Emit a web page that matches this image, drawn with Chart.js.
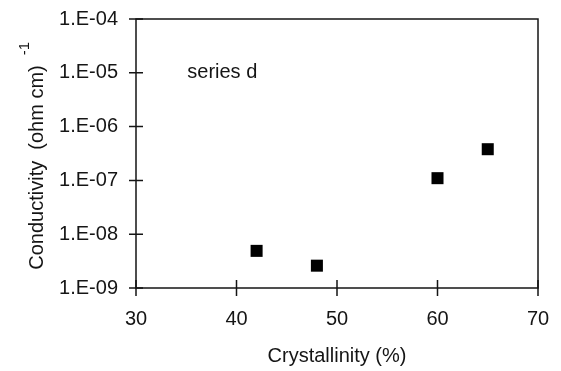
<!DOCTYPE html>
<html>
<head>
<meta charset="utf-8">
<script src="https://cdn.jsdelivr.net/npm/chart.js@4.4.1/dist/chart.umd.min.js"></script>
<style>
  html, body { margin: 0; padding: 0; background: #fff; }
  #wrap { width: 561px; height: 371px; }
</style>
</head>
<body>
<div id="wrap"><canvas id="chart"></canvas></div>
<script>
// data
const crystallinity = [42, 48, 60, 65];
const conductivity = [4.9e-9, 2.6e-9, 1.1e-7, 3.8e-7];
const xTicks = [30, 40, 50, 60, 70];
const yTicks = [1e-9, 1e-8, 1e-7, 1e-6, 1e-5, 1e-4];
const yTickLabels = ["1.E-09", "1.E-08", "1.E-07", "1.E-06", "1.E-05", "1.E-04"];
const seriesLabel = "series d";
const seriesLabelAt = { x: 35.1, y: 1e-5 };
const xTitle = "Crystallinity (%)";
const yTitle = "Conductivity  (ohm cm)";
const yTitleSup = "-1";

const ink = "#151515";
const family = "'Liberation Sans', Arial, sans-serif";

// box round the plot, cross ticks, note and the y title with its exponent
const frame = {
  id: "frame",
  afterDraw(chart) {
    const { ctx, chartArea: a, scales: { x, y } } = chart;
    ctx.save();
    ctx.strokeStyle = ink;
    ctx.lineWidth = 1.5;
    ctx.strokeRect(a.left, a.top, a.right - a.left, a.bottom - a.top);
    ctx.beginPath();
    yTicks.forEach((v) => {
      const py = y.getPixelForValue(v);
      ctx.moveTo(a.left - 7, py);
      ctx.lineTo(a.left + 7, py);
    });
    xTicks.forEach((v) => {
      const px = x.getPixelForValue(v);
      ctx.moveTo(px, a.bottom - 8);
      ctx.lineTo(px, a.bottom + 8);
    });
    ctx.stroke();

    ctx.fillStyle = ink;
    ctx.font = `20px ${family}`;
    ctx.textAlign = "left";
    ctx.textBaseline = "middle";
    ctx.fillText(seriesLabel, x.getPixelForValue(seriesLabelAt.x), y.getPixelForValue(seriesLabelAt.y));

    ctx.translate(a.left - 99, (a.top + a.bottom) / 2 + 14);
    ctx.rotate(-Math.PI / 2);
    ctx.textAlign = "center";
    ctx.fillText(yTitle, 0, 0);
    const w = ctx.measureText(yTitle).width;
    ctx.font = `15px ${family}`;
    ctx.textAlign = "left";
    ctx.fillText(yTitleSup, w / 2 + 10, -12);
    ctx.restore();
  }
};

new Chart(document.getElementById("chart"), {
  type: "scatter",
  data: {
    datasets: [{
      label: seriesLabel,
      data: crystallinity.map((c, i) => ({ x: c, y: conductivity[i] })),
      pointStyle: "rect",
      pointRadius: 8.5,
      pointHoverRadius: 8.5,
      backgroundColor: "#000",
      borderColor: "#000",
      borderWidth: 0,
      showLine: false
    }]
  },
  options: {
    responsive: true,
    maintainAspectRatio: false,
    animation: false,
    layout: { padding: { top: 19, right: 23, left: 0, bottom: 0 } },
    plugins: { legend: { display: false }, tooltip: { enabled: false } },
    scales: {
      x: {
        type: "linear",
        min: 30,
        max: 70,
        afterBuildTicks: (s) => { s.ticks = xTicks.map((v) => ({ value: v })); },
        afterFit: (s) => { s.height = 83; s.paddingLeft = 0; s.paddingRight = 0; },
        grid: { display: false, drawTicks: false },
        border: { display: false },
        ticks: { color: ink, padding: 19, font: { family, size: 20 } },
        title: { display: true, text: xTitle, color: ink, padding: { top: 0, bottom: 3 }, font: { family, size: 20 } }
      },
      y: {
        type: "logarithmic",
        min: 1e-9,
        max: 1e-4,
        afterBuildTicks: (s) => { s.ticks = yTicks.map((v) => ({ value: v })); },
        afterFit: (s) => { s.width = 136; s.paddingTop = 0; s.paddingBottom = 0; },
        grid: { display: false, drawTicks: false },
        border: { display: false },
        ticks: {
          color: ink,
          padding: 18,
          font: { family, size: 20 },
          callback: (v, i) => yTickLabels[i]
        }
      }
    }
  },
  plugins: [frame]
});
</script>
</body>
</html>
